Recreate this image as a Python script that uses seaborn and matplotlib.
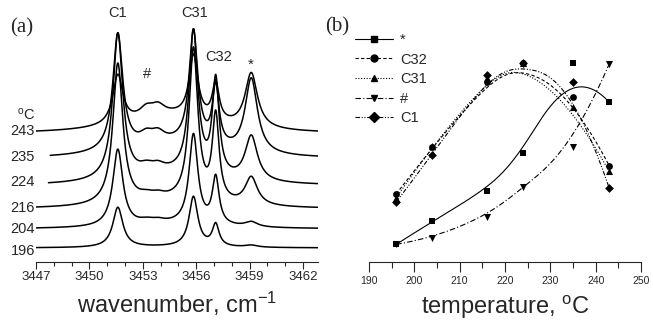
import numpy as np
import pandas as pd
import matplotlib
matplotlib.use("Agg")
import matplotlib.pyplot as plt
from matplotlib.lines import Line2D
from matplotlib.ticker import MultipleLocator
import seaborn as sns

# ------------------------------
#   data
# ------------------------------
temps = [196, 204, 216, 224, 235, 243]
temp_labels = ["196", "204", "216", "224", "235", "243"]

# (a) spectra: peak centres (cm-1), half widths and heights for each temperature
peak_names = ["C1", "#a", "#b", "C31", "C32", "*", "bg"]
peak_pos = [3451.6, 3453.2, 3453.85, 3455.85, 3457.1, 3459.1, 3454.5]
peak_hw = [0.34, 0.45, 0.45, 0.30, 0.23, 0.42, 3.0]
h_c1 = [40, 77, 141, 146, 117, 49]
h_hash = [0, 3, 4, 6, 9, 9]
h_c31 = [50, 90, 152, 143, 114, 62]
h_c32 = [22, 47, 85, 95, 59, 38]
h_star = [2, 5, 28, 45, 75, 55]
h_bg = [1, 4, 7, 11, 14, 18]
spec_start = [3447.0, 3447.0, 3447.0, 3447.7, 3447.8, 3447.0]
spec_end = 3462.85

# (b) relative intensities
series = ["*", "C32", "C31", "#", "C1"]
i_star = [0.03, 0.155, 0.316, 0.519, 1.0, 0.79]
i_c32 = [0.30, 0.55, 0.90, 1.0, 0.82, 0.45]
i_c31 = [0.28, 0.556, 0.92, 1.0, 0.765, 0.42]
i_hash = [0.03, 0.064, 0.176, 0.337, 0.55, 0.995]
i_c1 = [0.257, 0.51, 0.936, 1.0, 0.90, 0.33]


def bspline(px, py, n=200):
    # clamped cubic B-spline with the points as control points (Origin style line)
    px, py = np.asarray(px, float), np.asarray(py, float)
    m = len(px)
    knots = np.concatenate([[0] * 3, np.arange(m - 2), [m - 3] * 3]).astype(float)
    u = np.linspace(0, m - 3, n)
    u[-1] -= 1e-9
    b = np.array([((knots[i] <= u) & (u < knots[i + 1])).astype(float)
                  for i in range(len(knots) - 1)])
    for d in range(1, 4):
        nb = np.zeros((len(knots) - 1 - d, n))
        for i in range(len(knots) - 1 - d):
            a = knots[i + d] - knots[i]
            c = knots[i + d + 1] - knots[i + 1]
            if a > 0:
                nb[i] += (u - knots[i]) / a * b[i]
            if c > 0:
                nb[i] += (knots[i + d + 1] - u) / c * b[i + 1]
        b = nb
    return b.T @ px, b.T @ py


# ------------------------------
#   style
# ------------------------------
sns.set_style("white")
plt.rcParams["font.family"] = ["Liberation Sans", "DejaVu Sans"]
plt.rcParams["mathtext.fontset"] = "custom"
plt.rcParams["mathtext.rm"] = "Liberation Sans"
plt.rcParams["mathtext.it"] = "Liberation Sans"

W, H = 653, 323
fig = plt.figure(figsize=(W / 100, H / 100), dpi=100)
fig.patch.set_facecolor("white")

# ------------------------------
#   (a) spectra
# ------------------------------
ax1 = fig.add_axes([36 / W, (H - 262) / H, 282 / W, 252 / H])

offsets = [14, 33, 53, 76, 103, 128]  # stacking, in plot units
heights = np.array([h_c1, h_hash, h_hash, h_c31, h_c32, h_star, h_bg], float)

rows = []
for k, t in enumerate(temps):
    x = np.linspace(spec_start[k], spec_end, 900)
    y = np.full_like(x, offsets[k], dtype=float)
    for j in range(len(peak_pos)):
        y += heights[j, k] / (1 + ((x - peak_pos[j]) / peak_hw[j]) ** 2)
    rows.append(pd.DataFrame({"wavenumber": x, "signal": y, "temp": t}))
spec = pd.concat(rows)

sns.lineplot(data=spec, x="wavenumber", y="signal", units="temp",
             estimator=None, color="k", lw=1.1, ax=ax1, legend=False)

ax1.set_xlim(3447, spec_end)
ax1.set_ylim(0, 252)
ax1.set_yticks([])
ax1.xaxis.set_major_locator(MultipleLocator(3))
ax1.xaxis.set_minor_locator(MultipleLocator(1))
ax1.tick_params(axis="x", which="major", direction="out", length=5, width=0.8,
                pad=1.5, labelsize=9.5, bottom=True)
ax1.tick_params(axis="x", which="minor", direction="out", length=3, width=0.8,
                bottom=True)
for s in ["left", "right", "top"]:
    ax1.spines[s].set_visible(False)
ax1.spines["bottom"].set_linewidth(0.8)
ax1.set_xlabel("wavenumber, cm$^{-1}$", fontsize=17, labelpad=5)
ax1.set_ylabel("")

lab_y = [11, 33, 54, 80, 105, 131]
for k, lab in enumerate(temp_labels):
    ax1.text(3446.95, lab_y[k], lab, ha="right", va="center", fontsize=10.5,
             clip_on=False)
ax1.text(3446.95, 147, "$^{\\rm o}$C", ha="right", va="center", fontsize=10.5,
         clip_on=False)

ax1.text(3451.57, 249, "C1", ha="center", va="center", fontsize=10.5)
ax1.text(3455.9, 249, "C31", ha="center", va="center", fontsize=10.5)
ax1.text(3457.27, 205, "C32", ha="center", va="center", fontsize=10.5)
ax1.text(3459.07, 197, "*", ha="center", va="center", fontsize=11)
ax1.text(3453.26, 188, "#", ha="center", va="center", fontsize=10.5)

fig.text(22 / W, 1 - 28 / H, "(a)", family="Liberation Serif", fontsize=15,
         ha="center", va="center")

# ------------------------------
#   (b) intensities vs temperature
# ------------------------------
ax2 = fig.add_axes([369 / W, (H - 262) / H, 272 / W, 252 / H])

vals = [i_star, i_c32, i_c31, i_hash, i_c1]
markers = ["s", "o", "^", "v", "D"]
sizes = [24, 24, 26, 26, 20]
styles = ["-", (0, (3, 2)), (0, (1, 1.5)), (0, (5, 2, 1, 2)),
          (0, (4, 1.5, 1, 1.5, 1, 1.5))]

handles = []
for k, name in enumerate(series):
    cx, cy = bspline(temps, vals[k])
    sns.lineplot(x=cx, y=cy, sort=False, color="k", lw=0.8, ls=styles[k], ax=ax2)
    sns.scatterplot(x=temps, y=vals[k], marker=markers[k], s=sizes[k],
                    color="k", linewidth=0, ax=ax2, zorder=3)
    handles.append(Line2D([], [], color="k", lw=0.8, ls=styles[k],
                          marker=markers[k], markersize=5))

ax2.set_xlim(190, 250)
ax2.set_ylim(-0.064, 1.283)
ax2.set_yticks([])
ax2.xaxis.set_major_locator(MultipleLocator(10))
ax2.xaxis.set_minor_locator(MultipleLocator(5))
ax2.tick_params(axis="x", which="major", direction="out", length=7, width=0.8,
                pad=3, labelsize=7.5, bottom=True)
ax2.tick_params(axis="x", which="minor", direction="out", length=4, width=0.8,
                bottom=True)
for s in ["left", "right", "top"]:
    ax2.spines[s].set_visible(False)
ax2.spines["bottom"].set_linewidth(0.8)
ax2.set_xlabel("temperature, $^{\\rm o}$C", fontsize=17, labelpad=6)
ax2.set_ylabel("")

fig.legend(handles, series, loc="upper left", bbox_to_anchor=(355 / W, 1 - 33 / H),
           frameon=False, fontsize=10.5, handlelength=2.6, handletextpad=0.5,
           labelspacing=0.38, borderpad=0, borderaxespad=0, numpoints=1)

fig.text(337 / W, 1 - 27 / H, "(b)", family="Liberation Serif", fontsize=15,
         ha="center", va="center")

fig.savefig("out.png", dpi=100, facecolor="white")
